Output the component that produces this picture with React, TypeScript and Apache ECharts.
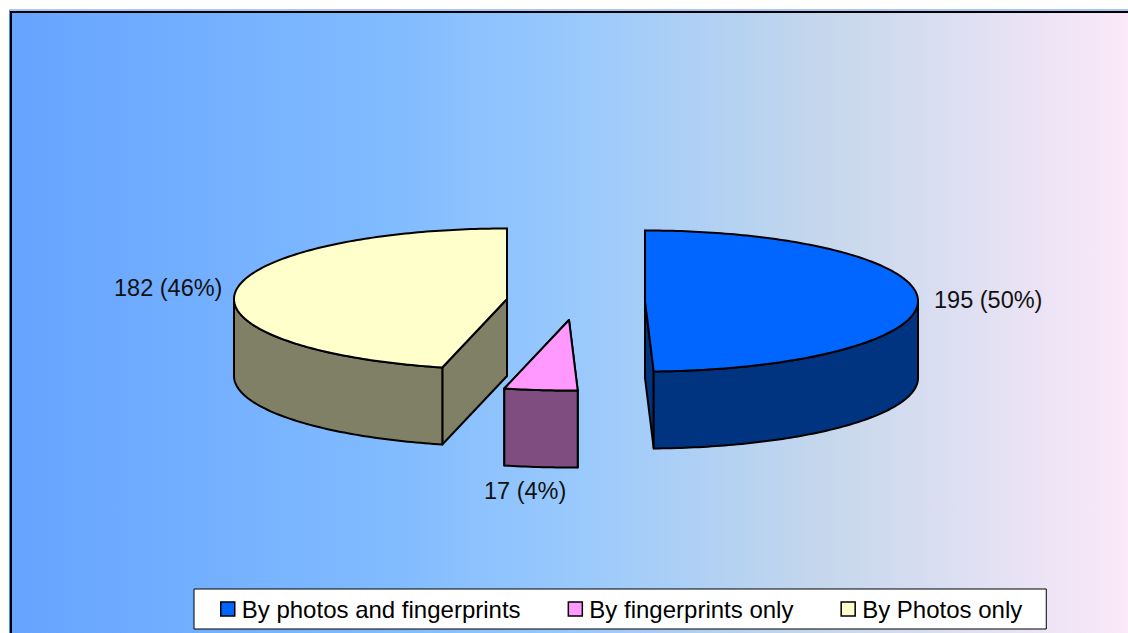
import React, { useEffect, useRef } from "react";
import * as echarts from "echarts";

const categories = ["By photos and fingerprints", "By fingerprints only", "By Photos only"];
const values = [195, 17, 182];
const percentLabels = [50, 4, 46];
const faceColors = ["#0066FF", "#FF99FF", "#FFFFCC"];
const sideColors = ["#003380", "#804D80", "#808066"];
const W = 1128;
const H = 633;
const FONT = '"Liberation Sans", Arial, sans-serif';
const apexes = [[645, 301], [569, 320], [507, 299]];
const labelPos = [[934, 300], [484, 491], [114, 288]];
const RX = 273;
const RY = 70.5;
const DEPTH = 77;
const total = values.reduce((a, b) => a + b, 0);

function renderSlice(seriesIdx: number) {
  return (_params: any, api: any) => {
    const v = api.value(0);
    let before = 0;
    for (let i = 0; i < seriesIdx; i++) before += values[i];
    const a0 = (before / total) * Math.PI * 2;
    const a1 = ((before + v) / total) * Math.PI * 2;
    const [cx, cy] = apexes[seriesIdx];
    const pt = (a: number, d = 0) => [cx + RX * Math.sin(a), cy - RY * Math.cos(a) + d];
    const arc = (s: number, e: number, d = 0) => {
      const out: number[][] = [];
      const n = Math.max(2, Math.ceil(Math.abs(e - s) * 60));
      for (let i = 0; i <= n; i++) out.push(pt(s + ((e - s) * i) / n, d));
      return out;
    };
    const line = { stroke: "#000", lineWidth: 2, lineJoin: "round" };
    const side = sideColors[seriesIdx];
    const children: any[] = [];
    const face = (a: number) => ({
      type: "polygon",
      shape: { points: [[cx, cy], pt(a), pt(a, DEPTH), [cx, cy + DEPTH]] },
      style: { fill: side, ...line },
    });
    children.push(face(a0), face(a1));
    const ws = Math.max(a0, Math.PI / 2);
    const we = Math.min(a1, (Math.PI * 3) / 2);
    if (we > ws) {
      const wallPts = [...arc(ws, we), ...arc(ws, we, DEPTH).reverse()];
      children.push({ type: "polygon", shape: { points: wallPts }, style: { fill: side, ...line } });
    }
    children.push({
      type: "polygon",
      shape: { points: [[cx, cy], ...arc(a0, a1)] },
      style: { fill: faceColors[seriesIdx], ...line },
    });
    const [lx, ly] = labelPos[seriesIdx];
    children.push({
      type: "text",
      style: {
        text: `${v} (${percentLabels[seriesIdx]}%)`,
        x: lx,
        y: ly,
        fill: "#111",
        font: `23.5px ${FONT}`,
        textAlign: "left",
        textVerticalAlign: "middle",
      },
    });
    return { type: "group", children };
  };
}

export default function App() {
  const ref = useRef<HTMLDivElement>(null);
  useEffect(() => {
    const chart = echarts.init(ref.current!, undefined, { renderer: "svg" });
    chart.setOption({
      animation: false,
      backgroundColor: "#fff",
      graphic: {
        elements: [
          {
            type: "rect",
            z: -2,
            shape: { x: 9.5, y: 10, width: W, height: H },
            style: { fill: "none", stroke: "#4d8ff0", lineWidth: 1 },
          },
          {
            type: "rect",
            z: -1,
            shape: { x: 11, y: 12, width: W, height: H },
            style: {
              fill: new echarts.graphic.LinearGradient(0, 0, 1, 0, [
                { offset: 0, color: "#66A3FF" },
                { offset: 0.33, color: "#80BBFF" },
                { offset: 0.5, color: "#99C9FC" },
                { offset: 0.72, color: "#C5D7EC" },
                { offset: 1, color: "#FDE9F9" },
              ]),
              stroke: "#000",
              lineWidth: 2,
            },
          },
        ],
      },
      legend: {
        left: 194,
        top: 589,
        orient: "horizontal",
        padding: [8, 24, 8, 26],
        itemGap: 47,
        itemWidth: 14,
        itemHeight: 14,
        icon: "rect",
        backgroundColor: "#fff",
        borderColor: "#000",
        borderWidth: 1,
        borderRadius: 0,
        selectedMode: false,
        data: categories,
        itemStyle: { borderColor: "#000", borderWidth: 1.5 },
        textStyle: { fontFamily: FONT, fontSize: 24, color: "#000", padding: [0, 0, 0, 2] },
      },
      series: categories.map((name, i) => ({
        type: "custom",
        name,
        coordinateSystem: "none",
        silent: true,
        itemStyle: { color: faceColors[i] },
        renderItem: renderSlice(i),
        data: [[values[i]]],
      })),
    });
    return () => chart.dispose();
  }, []);
  return <div ref={ref} style={{ position: "fixed", left: 0, top: 0, width: W, height: H }} />;
}
